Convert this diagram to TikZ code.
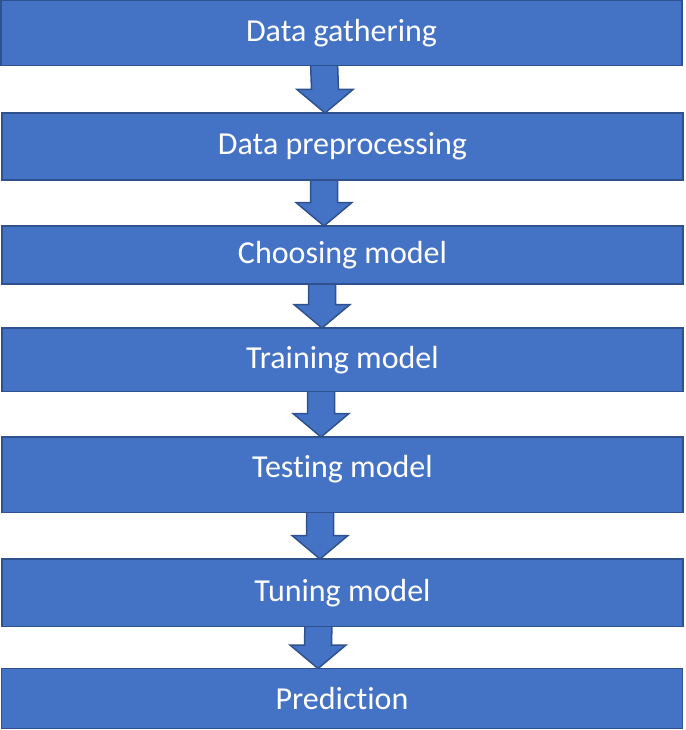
\documentclass[tikz,border=0pt]{standalone}
\usepackage{fontspec}
\setmainfont[Ligatures={NoCommon}]{Carlito}
\usetikzlibrary{calc,backgrounds}
\definecolor{boxfill}{HTML}{4472C4}
\definecolor{boxline}{HTML}{2F528F}
\tikzset{
  stepbox/.style={draw=boxline, fill=boxfill, line width=1.5pt, minimum width=681pt,
    inner sep=0pt, outer sep=0pt, text=white, font=\fontsize{32}{34}\selectfont},
  blockarrow/.style={draw=boxline, fill=boxfill, line width=1.5pt, line join=miter}
}
\newcommand\flowarrow[3]{%
  \path ([xshift=#3pt]#1.south) coordinate (s-#1) ([xshift=#3pt]#2.north) coordinate (t-#1);
  \draw[blockarrow] ($(s-#1)+(-13.5,-4)$) -- ($(t-#1)+(-13.5,-23.5)$) -- ($(t-#1)+(-28,-23.5)$)
    -- (t-#1) -- ($(t-#1)+(28,-23.5)$) -- ($(t-#1)+(13.5,-23.5)$) -- ($(s-#1)+(13.5,-4)$) -- cycle;
}
\begin{document}
\begin{tikzpicture}[x=1pt,y=-1pt]
\useasboundingbox (0,0) rectangle (685,730);
\node[stepbox, minimum height=65pt] (n1) at (341.5,33) {Data gathering};
\node[stepbox, minimum height=67pt] (n2) at (342.5,146.5) {Data preprocessing};
\node[stepbox, minimum height=58pt] (n3) at (342.5,255) {Choosing model};
\node[stepbox, minimum height=63.5pt] (n4) at (342.5,359.75) {Training model};
\node[stepbox, minimum height=75.5pt] (n5) at (342.5,474.75) {\raisebox{6pt}[\height][\depth]{Testing model}};
\node[stepbox, minimum height=67.5pt] (n6) at (342.5,592.75) {Tuning model};
\node[stepbox, minimum height=60pt] (n7) at (342,698.5) {Prediction};
\begin{scope}[on background layer]
\flowarrow{n1}{n2}{-17.5}
\flowarrow{n2}{n3}{-18.5}
\flowarrow{n3}{n4}{-20.5}
\flowarrow{n4}{n5}{-21.5}
\flowarrow{n5}{n6}{-22.5}
\flowarrow{n6}{n7}{-24}
\end{scope}
\end{tikzpicture}
\end{document}
